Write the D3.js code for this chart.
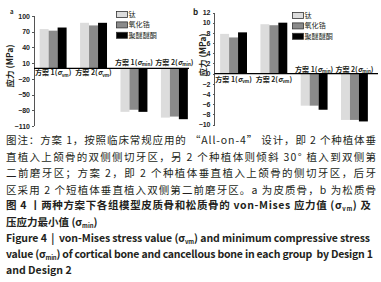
<!DOCTYPE html>
<meta charset="utf-8">
<style>
    body { margin: 0; background: #fff; }
    svg text { font-family: "Noto Sans CJK SC", "Noto Sans", sans-serif; fill: #231f20; }
    .axis text { font: bold 7px "Liberation Sans", "Noto Sans", sans-serif; fill: #222; }
    .axis path, .axis line { fill: none; stroke: #555; stroke-width: 1; shape-rendering: crispEdges; }
    .cat { font-size: 7px; font-weight: 600; }
    .legend text { font-size: 7.1px; }
    .ytitle { font-size: 8.5px; font-weight: 600; }
    .cap { font-size: 10.5px; }
    .fig { font-size: 10.5px; font-weight: bold; }
</style>
<svg class="chart"></svg>
<script src="https://d3js.org/d3.v7.min.js"></script>
<script>

    // groups on the x axis
    var designs = ["方案 1", "方案 2", "方案 1", "方案 2"];
    var stressSub = ["vm", "vm", "min", "min"];
    var materials = ["钛", "氧化锆", "聚醚醚酮"];
    var colors = ["#dcdcdc", "#8a8a8a", "#000000"];

    // a: cortical bone (MPa), one array per material
    var corticalTi = [75, 87, -83, -94];
    var corticalZr = [72, 82, -79, -92];
    var corticalPeek = [78, 87, -83, -97];
    var ticksA = [100, 70, 40, 10, -20, -50, -80, -110];

    // b: cancellous bone (MPa)
    var cancellousTi = [7.8, 9.7, -6.3, -9.1];
    var cancellousZr = [7.1, 9.5, -6.3, -9.1];
    var cancellousPeek = [8.1, 10.0, -7.1, -9.4];
    var ticksB = [12, 10, 8, 6, 4, 2, 0, -2, -4, -6, -8, -10];

    var W = 381, H = 282;

    var svg = d3.select(".chart")
        .attr("width", W)
        .attr("height", H);

    function drawPanel(p) {
        var series = p.series;
        var g = svg.append("g");

        var x0 = d3.scaleBand()
            .domain(d3.range(designs.length))
            .range([p.left, p.right])
            .paddingInner(1 / 3)
            .paddingOuter(0.14);

        var x1 = d3.scaleBand()
            .domain(d3.range(materials.length))
            .range([0, x0.bandwidth()]);

        var y = d3.scaleLinear()
            .domain(d3.extent(p.ticks))
            .range([p.bottom, p.top]);

        var yAxis = d3.axisLeft(y)
            .tickValues(p.ticks)
            .tickSize(2)
            .tickPadding(2);

        g.append("g")
            .attr("class", "axis")
            .attr("transform", "translate(" + p.left + ",0)")
            .call(yAxis)
            .call(s => s.select(".domain").attr("d", "M0," + y(p.ticks[0]) + "V" + y(p.ticks[p.ticks.length - 1])))
            .selectAll("text").text(d => d3.format("")(d).replace("-", "−"));

        // bars
        var grp = g.selectAll(".grp")
            .data(designs.map((d, i) => i))
            .enter().append("g")
            .attr("class", "grp")
            .attr("transform", i => "translate(" + x0(i) + ",0)");

        grp.selectAll("rect")
            .data(i => series.map((s, k) => ({k: k, v: s[i]})))
            .enter().append("rect")
            .attr("x", d => x1(d.k))
            .attr("width", x1.bandwidth())
            .attr("y", d => y(Math.max(0, d.v)))
            .attr("height", d => Math.abs(y(d.v) - y(0)))
            .attr("fill", d => colors[d.k]);

        // zero line
        g.append("line")
            .attr("x1", p.left).attr("x2", p.zeroEnd)
            .attr("y1", y(0)).attr("y2", y(0))
            .attr("stroke", "#000")
            .attr("stroke-width", 1.3);

        // category labels, under the line for +, above for -
        grp.each(function (i) {
            var t = d3.select(this).append("text")
                .attr("class", "cat")
                .attr("x", x0.bandwidth() / 2)
                .attr("y", series[0][i] >= 0 ? y(0) + p.catBelow : y(0) - p.catAbove)
                .attr("text-anchor", "middle");
            t.append("tspan").text(designs[i] + "(");
            t.append("tspan").attr("font-style", "italic").text("σ");
            t.append("tspan").attr("font-size", "4.5px").attr("dy", 1.5).text(stressSub[i]);
            t.append("tspan").attr("dy", -1.5).text(")");
        });

        // y title
        g.append("text")
            .attr("class", "ytitle")
            .attr("transform", "translate(" + p.titleX + "," + p.titleY + ") rotate(-90)")
            .attr("text-anchor", "middle")
            .attr("dy", "0.35em")
            .text("应力 (MPa)");

        g.append("text")
            .attr("x", p.letterX).attr("y", p.letterY)
            .attr("font-size", p.letterSize)
            .attr("font-weight", "bold")
            .attr("font-family", "Liberation Sans, sans-serif")
            .text(p.letter);

        // legend
        var lg = g.append("g")
            .attr("class", "legend")
            .attr("transform", "translate(" + p.legX + "," + p.legY + ")");
        var item = lg.selectAll("g")
            .data(materials)
            .enter().append("g")
            .attr("transform", (d, i) => "translate(0," + i * 10.4 + ")");
        item.append("rect")
            .attr("x", 0.5).attr("y", -3)
            .attr("width", 11).attr("height", 6)
            .attr("fill", (d, i) => colors[i])
            .attr("stroke", "#333")
            .attr("stroke-width", 0.8);
        item.append("text")
            .attr("x", 12.5)
            .attr("dy", "0.36em")
            .text(d => d);
    }

    drawPanel({
        series: [corticalTi, corticalZr, corticalPeek],
        ticks: ticksA,
        left: 34, right: 193.5, top: 16, bottom: 126, zeroEnd: 189,
        catBelow: 7, catAbove: 3.5,
        titleX: 10, titleY: 66,
        letter: "a", letterX: 10, letterY: 14, letterSize: 6,
        legX: 116, legY: 14.5
    });

    drawPanel({
        series: [cancellousTi, cancellousZr, cancellousPeek],
        ticks: ticksB,
        left: 214.5, right: 373.5, top: 12.5, bottom: 124.5, zeroEnd: 378,
        catBelow: 8, catAbove: 2,
        titleX: 203, titleY: 55,
        letter: "b", letterX: 193, letterY: 15, letterSize: 8,
        legX: 292, legY: 15.5
    });

    // caption; "_x_" marks a subscript part
    var capLines = [
        {c: "cap", y: 144, w: 370, s: "图注：方案 1，按照临床常规应用的 “All-on-4” 设计，即 2 个种植体垂"},
        {c: "cap", y: 160.5, w: 370, s: "直植入上颌骨的双侧侧切牙区，另 2 个种植体则倾斜 30° 植入到双侧第"},
        {c: "cap", y: 177, w: 370, s: "二前磨牙区；方案 2，即 2 个种植体垂直植入上颌骨的侧切牙区，后牙"},
        {c: "cap", y: 193.5, w: 370, s: "区采用 2 个短植体垂直植入双侧第二前磨牙区。a 为皮质骨，b 为松质骨"},
        {c: "fig", y: 209, w: 365, s: "图 4 丨两种方案下各组模型皮质骨和松质骨的 von-Mises 应力值 (σ_vm_) 及"},
        {c: "fig", y: 225.5, w: 0, s: "压应力最小值 (σ_min_)"},
        {c: "fig", y: 241.5, w: 364, s: "Figure 4  |  von-Mises stress value (σ_vm_) and minimum compressive stress"},
        {c: "fig", y: 258, w: 367, s: "value (σ_min_) of cortical bone and cancellous bone in each group  by Design 1"},
        {c: "fig", y: 274, w: 0, s: "and Design 2"}
    ];

    capLines.forEach(function (l) {
        var t = svg.append("text")
            .attr("class", l.c)
            .attr("x", 6)
            .attr("y", l.y)
            .attr("xml:space", "preserve");
        if (l.c == "fig") t.attr("font-family", "Open Sans, Noto Sans CJK SC, sans-serif");
        l.s.split("_").forEach(function (part, i) {
            if (i % 2 == 1) {
                t.append("tspan").attr("font-size", "6px").attr("dy", 2).text(part);
            } else {
                t.append("tspan").attr("dy", i > 0 ? -2 : 0).text(part);
            }
        });
        if (l.w) t.attr("textLength", l.w).attr("lengthAdjust", "spacing");
    });

</script>
